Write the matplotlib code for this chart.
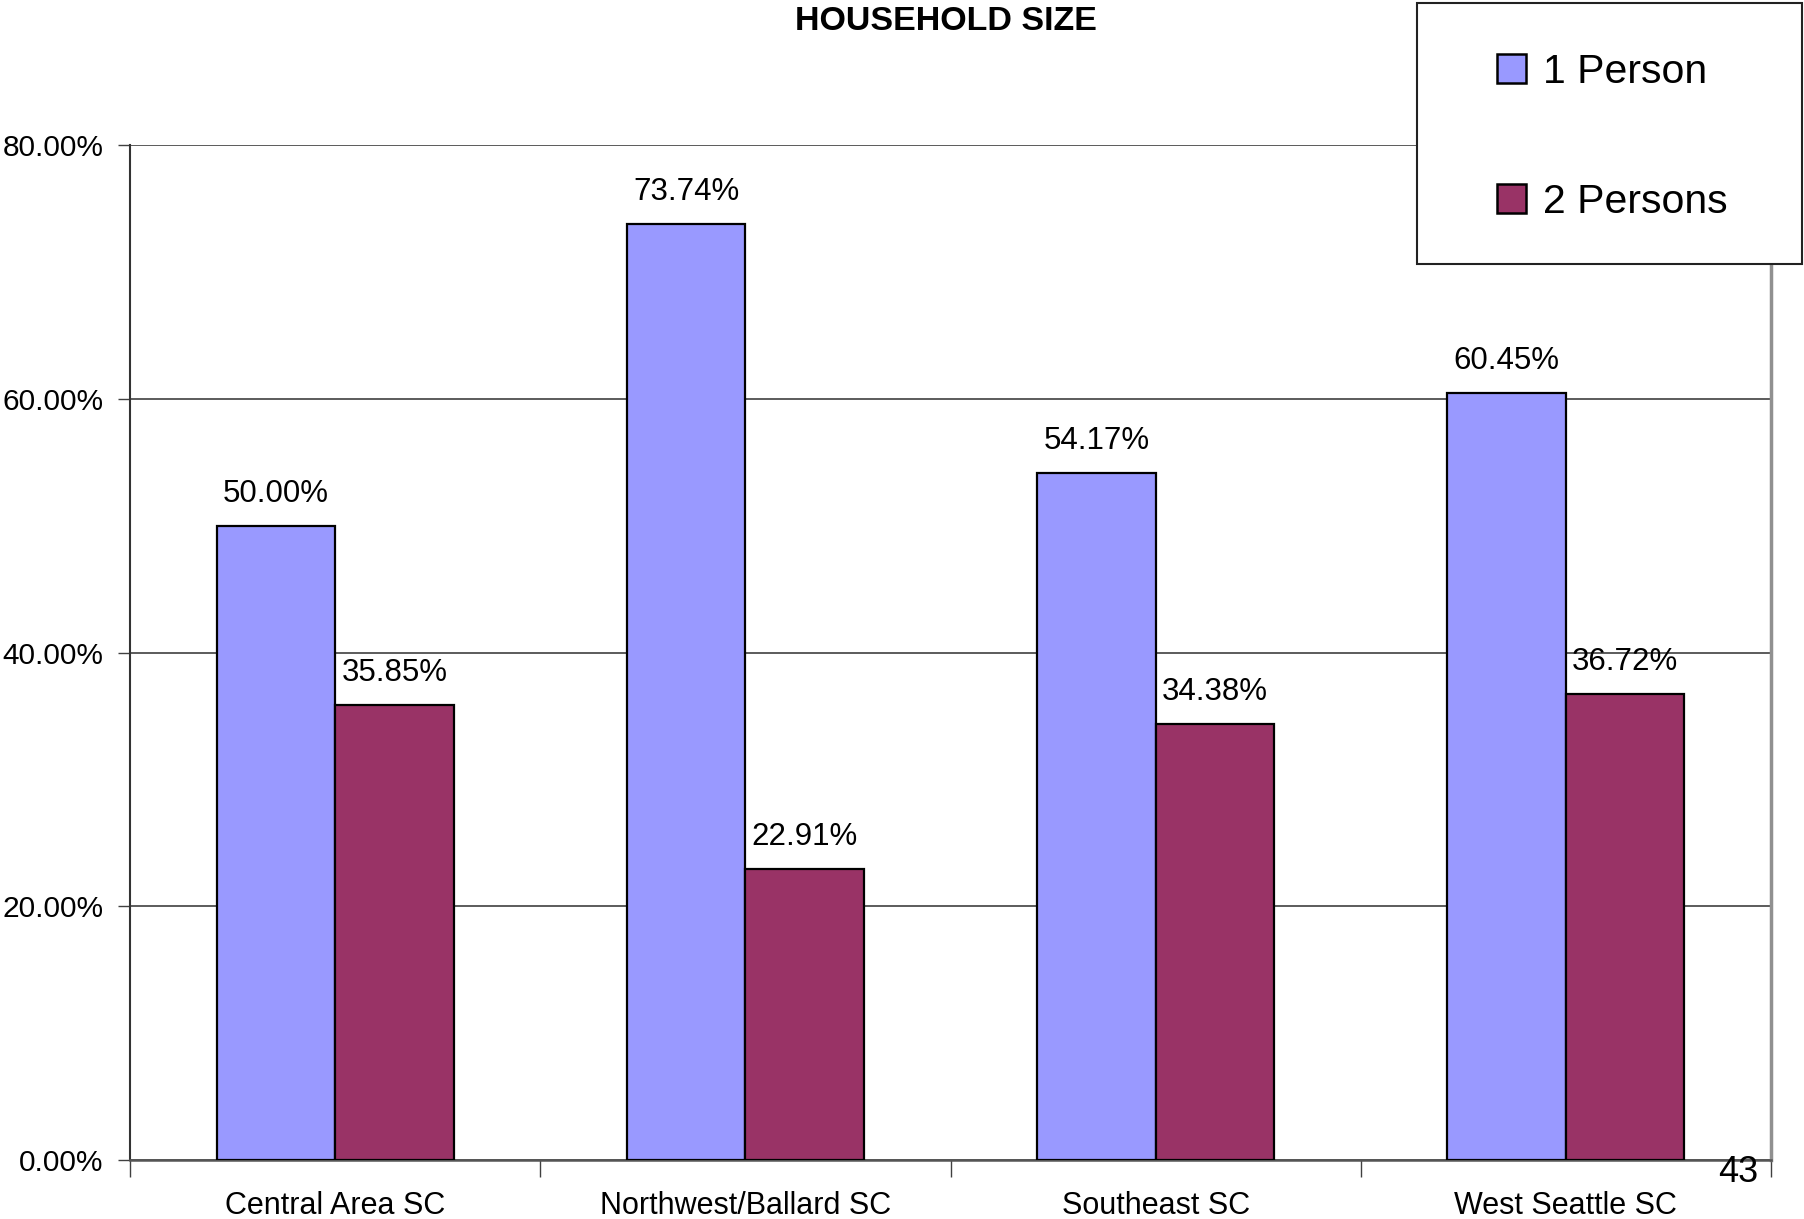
import matplotlib
matplotlib.use("Agg")
import matplotlib.pyplot as plt
from matplotlib.patches import Rectangle, Patch
import numpy as np

categories = ["Central Area SC", "Northwest/Ballard SC", "Southeast SC", "West Seattle SC"]
one_person = [50.00, 73.74, 54.17, 60.45]
two_persons = [35.85, 22.91, 34.38, 36.72]
series_names = ["1 Person", "2 Persons"]
yticks = [0, 20, 40, 60, 80]

plt.rcParams['font.family'] = ['Liberation Sans', 'DejaVu Sans']

W, H = 1804, 1219
fig = plt.figure(figsize=(W / 100, H / 100), dpi=100)
ax = fig.add_axes([130 / W, 1 - 1160 / H, (1771 - 130) / W, (1160 - 145) / H])

c1 = "#9999FF"
c2 = "#993366"
x = np.arange(len(categories))
bw = 0.289
b1 = ax.bar(x - bw / 2, one_person, bw, color=c1, edgecolor="black", linewidth=1.6, zorder=3)
b2 = ax.bar(x + bw / 2, two_persons, bw, color=c2, edgecolor="black", linewidth=1.6, zorder=3)

for bars, vals in ((b1, one_person), (b2, two_persons)):
    for r, v in zip(bars, vals):
        ax.annotate(f"{v:.2f}%", (r.get_x() + r.get_width() / 2, v),
                    xytext=(0, 23), textcoords="offset points",
                    ha="center", va="center", fontsize=22.5)

ax.set_xlim(-0.5, len(categories) - 0.5)
ax.set_ylim(0, 80)
ax.set_yticks(yticks)
ax.set_yticklabels([f"{t:.2f}%" for t in yticks], fontsize=21.5)
ax.yaxis.grid(True, color="#404040", linewidth=1.2, zorder=0)
ax.set_axisbelow(True)

ax.set_xticks(x)
ax.set_xticklabels(categories, fontsize=22)
ax.tick_params(axis="x", length=0, pad=22)
ax.set_xticks(np.arange(len(categories) + 1) - 0.5, minor=True)
ax.tick_params(axis="x", which="minor", length=12, width=1, color="#404040")
ax.tick_params(axis="y", length=9, width=1, color="#404040", pad=10)

ax.spines["top"].set_visible(False)
ax.spines["left"].set_color("#333333")
ax.spines["left"].set_linewidth(1.5)
ax.spines["bottom"].set_color("#555555")
ax.spines["bottom"].set_linewidth(1.8)
ax.spines["right"].set_color("#909090")
ax.spines["right"].set_linewidth(2.5)

fig.text(946 / W, 1 - 21 / H, "HOUSEHOLD SIZE", ha="center", va="center",
         fontsize=24.5, fontweight="bold")

fig.text(1738 / W, 1 - 1173 / H, "43", ha="center", va="center", fontsize=26)

# legend box
box = Rectangle((1417 / W, 1 - 264 / H), (1802 - 1417) / W, (264 - 3) / H,
                transform=fig.transFigure, facecolor="white", edgecolor="#222222",
                linewidth=1.5, zorder=5)
fig.patches.append(box)
handles = [Patch(facecolor=c1, edgecolor="black", linewidth=1.8),
           Patch(facecolor=c2, edgecolor="black", linewidth=1.8)]
leg = fig.legend(handles, series_names, loc="center left",
                 bbox_to_anchor=(1477 / W, 1 - 137 / H), frameon=False,
                 fontsize=29.5, handlelength=0.7, handleheight=0.7,
                 handletextpad=0.4, labelspacing=2.25, borderpad=0)
leg.set_zorder(6)

fig.savefig("out.png", dpi=100, facecolor="white")
